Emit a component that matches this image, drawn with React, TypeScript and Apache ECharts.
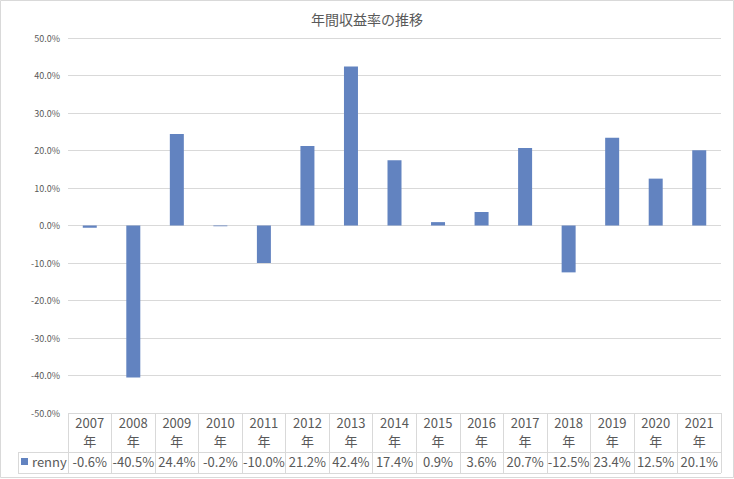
import React, { useEffect, useRef } from "react";
import * as echarts from "echarts";

const years = ["2007", "2008", "2009", "2010", "2011", "2012", "2013", "2014", "2015", "2016", "2017", "2018", "2019", "2020", "2021"];
const returns = [-0.6, -40.5, 24.4, -0.2, -10.0, 21.2, 42.4, 17.4, 0.9, 3.6, 20.7, -12.5, 23.4, 12.5, 20.1];
const yearSuffix = "年";
const seriesName = "renny";
const title = "年間収益率の推移";

const W = 734;
const H = 479;
const GRID_L = 68;
const GRID_R = 721;
const GRID_T = 38;
const GRID_B = 413;
const ROW1_B = 452;
const ROW2_B = 473;
const TABLE_L = 18;
const FONT = "'Noto Sans CJK JP', 'Noto Sans', sans-serif";
const TEXT = "#595959";
const LINE = "#d9d9d9";
const BAR = "#6283c0";

const labelBase = { interval: 0, fontSize: 13, color: TEXT, fontFamily: FONT };

export default function App() {
  const ref = useRef<HTMLDivElement>(null);
  useEffect(() => {
    if (!ref.current) return;
    const chart = echarts.init(ref.current, undefined, { renderer: "svg" });
    chart.setOption({
      animation: false,
      backgroundColor: "#ffffff",
      textStyle: { fontFamily: FONT },
      title: {
        text: title,
        left: "center",
        top: 7,
        textStyle: { fontSize: 14, fontWeight: "normal", color: TEXT, fontFamily: FONT },
      },
      legend: {
        data: [seriesName],
        left: TABLE_L + 3,
        top: ROW1_B + 3,
        icon: "rect",
        itemWidth: 7,
        itemHeight: 7,
        itemGap: 4,
        padding: 0,
        selectedMode: false,
        textStyle: { fontSize: 13, color: TEXT, fontFamily: FONT, padding: [0, 0, 0, -1] },
      },
      grid: { left: GRID_L, right: W - GRID_R, top: GRID_T, bottom: H - GRID_B, containLabel: false },
      xAxis: [
        {
          type: "category",
          data: years,
          position: "bottom",
          axisLine: { show: false, onZero: false },
          axisTick: { show: true, length: ROW2_B - GRID_B, lineStyle: { color: LINE } },
          axisLabel: { ...labelBase, margin: 3 },
          splitLine: { show: false },
        },
        {
          type: "category",
          data: years,
          position: "bottom",
          offset: 19,
          axisLine: { show: false, onZero: false },
          axisTick: { show: false },
          axisLabel: { ...labelBase, margin: 2, formatter: () => yearSuffix },
        },
        {
          type: "category",
          data: years,
          position: "bottom",
          offset: ROW1_B - GRID_B,
          axisLine: { show: false, onZero: false },
          axisTick: { show: false },
          axisLabel: {
            ...labelBase,
            margin: 3,
            formatter: (_v: string, i: number) => `${returns[i].toFixed(1)}%`,
          },
        },
      ],
      yAxis: {
        type: "value",
        min: -50,
        max: 50,
        interval: 10,
        axisLine: { show: false },
        axisTick: { show: false },
        axisLabel: {
          fontSize: 9,
          color: TEXT,
          margin: 8,
          fontFamily: FONT,
          formatter: (v: number) => `${v.toFixed(1)}%`,
        },
        splitLine: { lineStyle: { color: LINE, width: 1 } },
      },
      series: [
        {
          name: seriesName,
          type: "bar",
          data: returns,
          barWidth: 14,
          itemStyle: { color: BAR },
          xAxisIndex: 0,
        },
      ],
      graphic: [
        { type: "rect", shape: { x: 0.5, y: 0.5, width: W - 1, height: H - 2 }, style: { fill: "none", stroke: LINE, lineWidth: 1 }, silent: true },
        { type: "line", shape: { x1: TABLE_L, y1: ROW1_B + 0.5, x2: GRID_R, y2: ROW1_B + 0.5 }, style: { stroke: LINE, lineWidth: 1 } },
        { type: "line", shape: { x1: TABLE_L, y1: ROW2_B + 0.5, x2: GRID_R, y2: ROW2_B + 0.5 }, style: { stroke: LINE, lineWidth: 1 } },
        { type: "line", shape: { x1: TABLE_L + 0.5, y1: ROW1_B, x2: TABLE_L + 0.5, y2: ROW2_B }, style: { stroke: LINE, lineWidth: 1 } },
      ],
    });
    return () => chart.dispose();
  }, []);
  return <div ref={ref} style={{ position: "fixed", left: 0, top: 0, width: W, height: H }} />;
}
